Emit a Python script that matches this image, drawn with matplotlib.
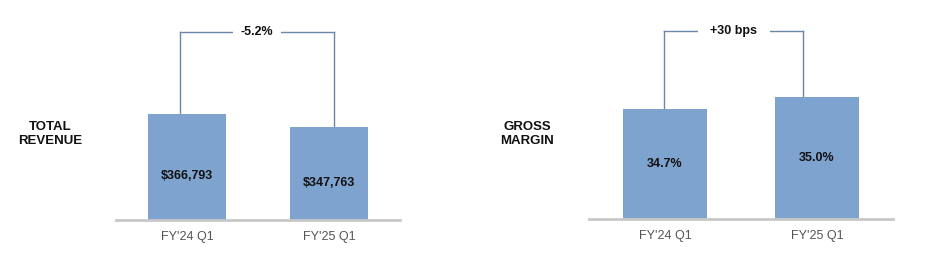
"""
FY'25 Q1 summary: total revenue and gross margin vs prior year.
"""

import matplotlib
matplotlib.use("Agg")
import matplotlib.pyplot as plt
import matplotlib.transforms as mtransforms

# data
PERIODS = ["FY'24 Q1", "FY'25 Q1"]
REVENUE = [366793, 347763]
REVENUE_LABELS = ["$366,793", "$347,763"]
REVENUE_CHANGE = "-5.2%"
MARGIN = [34.7, 35.0]
MARGIN_LABELS = ["34.7%", "35.0%"]
MARGIN_CHANGE = "+30 bps"

BAR = "#7FA3CF"
BRACKET = "#6B86AA"
BASE = "#C8C8C8"
TEXT = "#111111"
TICK = "#555555"
FONT = "Liberation Sans"

plt.rcParams["font.family"] = [FONT, "DejaVu Sans"]

W, H = 933, 276
fig = plt.figure(figsize=(W / 100, H / 100), dpi=100)


def px_axes(left, right, base, top):
    return fig.add_axes([left / W, (H - base) / H, (right - left) / W, (base - top) / H])


def panel(ax, values, labels, change, ylim, legs, gap_pad, label_dy):
    x = range(len(values))
    ax.bar(x, values, width=0.555, color=BAR, zorder=2)
    ax.set_xlim(-0.5, 1.5)
    ax.set_ylim(*ylim)
    for s in ["top", "right", "left"]:
        ax.spines[s].set_visible(False)
    ax.spines["bottom"].set_color(BASE)
    ax.spines["bottom"].set_linewidth(2)
    ax.set_yticks([])
    ax.set_xticks(list(x))
    ax.set_xticklabels(PERIODS, fontsize=9, color=TICK)
    ax.tick_params(axis="x", length=0, pad=8)

    for i, (v, lab) in enumerate(zip(values, labels)):
        ax.annotate(lab, xy=(i, (ylim[0] + v) / 2), xytext=(0, label_dy),
                    textcoords="offset points", ha="center", va="center",
                    fontsize=9, fontweight="bold", color=TEXT, zorder=4)

    # bracket between the two bars
    trans = mtransforms.blended_transform_factory(ax.transData, ax.transAxes)
    top = 0.94
    xl, xr = legs
    ax.plot([xl, xl], [values[0], ylim[0] + (ylim[1] - ylim[0]) * top], color=BRACKET, lw=1, zorder=1)
    ax.plot([xr, xr], [values[1], ylim[0] + (ylim[1] - ylim[0]) * top], color=BRACKET, lw=1, zorder=1)
    ax.plot([xl, xr], [top, top], color=BRACKET, lw=1, transform=trans, clip_on=False, zorder=1)
    ax.text((xl + xr) / 2, top, change, transform=trans, ha="center", va="center",
            fontsize=9, fontweight="bold", color=TEXT, zorder=3,
            bbox=dict(boxstyle=f"square,pad={gap_pad}", fc="white", ec="none"))


ax1 = px_axes(116, 400, 220, 20)
panel(ax1, REVENUE, REVENUE_LABELS, REVENUE_CHANGE,
      (211600, 211600 + 200 / 0.000683), (-0.046, 1.035), 0.6, -6.5)

ax2 = px_axes(589, 893, 219, 19)
panel(ax2, MARGIN, MARGIN_LABELS, MARGIN_CHANGE,
      (31.95, 31.95 + 200 / 40), (-0.005, 0.91), 1.0, 0)

fig.text(50 / W, 1 - 134 / H, "TOTAL\nREVENUE", ha="center", va="center",
         multialignment="center", linespacing=1.3,
         fontsize=9.5, fontweight="bold", color=TEXT)
fig.text(527 / W, 1 - 134 / H, "GROSS\nMARGIN", ha="center", va="center",
         multialignment="center", linespacing=1.3,
         fontsize=9.5, fontweight="bold", color=TEXT)

fig.savefig("out.png", dpi=100, facecolor="white")
